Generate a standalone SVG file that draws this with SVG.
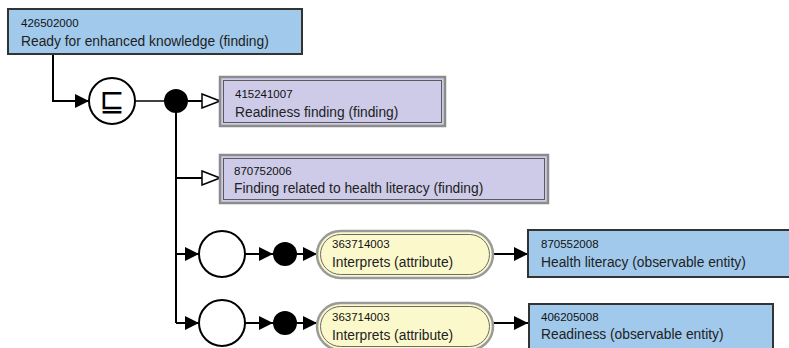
<svg xmlns="http://www.w3.org/2000/svg" width="789" height="348" viewBox="0 0 789 348">
  <style>
    .id { font-family: "Liberation Sans", Arial, sans-serif; font-size: 11.5px; fill: #111; }
    .nm { font-family: "Liberation Sans", Arial, sans-serif; font-size: 13.8px; fill: #222; }
    .prim { fill: #a0c9ec; stroke: #333; stroke-width: 2; }
    .def-outer { fill: #cdcbe8; stroke: #8c8c8c; stroke-width: 2.5; }
    .def-inner { fill: none; stroke: #5a5a5a; stroke-width: 1; }
    .attr-outer { fill: #fbf8cc; stroke: #9a9a9a; stroke-width: 2.5; }
    .attr-inner { fill: none; stroke: #6a6a6a; stroke-width: 1; }
    .line { fill: none; stroke: #000; stroke-width: 2; }
    .thin { fill: none; stroke: #000; stroke-width: 1.5; }
    .op { fill: #fff; stroke: #000; stroke-width: 2; }
    .dot { fill: #000; }
  </style>
  <defs>
    <marker id="filled" viewBox="0 0 14 14" refX="14" refY="7" markerWidth="14" markerHeight="14" markerUnits="userSpaceOnUse" orient="auto">
      <path d="M0,0 L14,7 L0,14 Z" fill="#000"/>
    </marker>
    <marker id="hollow" viewBox="0 0 20 16" refX="19" refY="8" markerWidth="20" markerHeight="16" markerUnits="userSpaceOnUse" orient="auto">
      <path d="M1,1 L19,8 L1,15 Z" fill="#fff" stroke="#000" stroke-width="1.5"/>
    </marker>
  </defs>

  <!-- connectors -->
  <g id="connectors">
    <path class="line" d="M53,54 V101 H89" marker-end="url(#filled)"/>
    <path class="thin" d="M134,101 H164"/>
    <path class="line" d="M188,101 H220" marker-end="url(#hollow)"/>
    <path class="line" d="M176,112 V323"/>
    <path class="line" d="M176,178 H220" marker-end="url(#hollow)"/>
    <path class="line" d="M176,254 H199" marker-end="url(#filled)"/>
    <path class="line" d="M245,254 H273" marker-end="url(#filled)"/>
    <path class="line" d="M297,254 H317" marker-end="url(#filled)"/>
    <path class="line" d="M493,254 H528" marker-end="url(#filled)"/>
    <path class="line" d="M176,323 H199" marker-end="url(#filled)"/>
    <path class="line" d="M245,323 H273" marker-end="url(#filled)"/>
    <path class="line" d="M297,323 H317" marker-end="url(#filled)"/>
    <path class="line" d="M493,323 H528" marker-end="url(#filled)"/>
  </g>

  <!-- focus concept -->
  <g id="c426502000">
    <rect class="prim" x="8" y="9" width="294" height="45"/>
    <text class="id" x="21" y="27">426502000</text>
    <text class="nm" x="21" y="46">Ready for enhanced knowledge (finding)</text>
  </g>

  <!-- subsumption operator -->
  <g id="subsumed">
    <circle class="op" cx="112" cy="101" r="23"/>
    <text x="112" y="111" text-anchor="middle" font-family="DejaVu Sans, sans-serif" font-size="30">⊑</text>
  </g>

  <g id="conj">
    <circle class="dot" cx="176" cy="101" r="12"/>
  </g>

  <g id="c415241007">
    <rect class="def-outer" x="220" y="77" width="225" height="49"/>
    <rect class="def-inner" x="223.5" y="80.5" width="218" height="42"/>
    <text class="id" x="235" y="98">415241007</text>
    <text class="nm" x="235" y="117">Readiness finding (finding)</text>
  </g>

  <g id="c870752006">
    <rect class="def-outer" x="220" y="155" width="328" height="48"/>
    <rect class="def-inner" x="223.5" y="158.5" width="321" height="41"/>
    <text class="id" x="234" y="175">870752006</text>
    <text class="nm" x="234" y="193">Finding related to health literacy (finding)</text>
  </g>

  <!-- first role group -->
  <g id="group1">
    <circle class="op" cx="222" cy="254" r="23"/>
  </g>
  <g id="conj1">
    <circle class="dot" cx="285" cy="254" r="12"/>
  </g>
  <g id="attr1">
    <rect class="attr-outer" x="317" y="231" width="176" height="47" rx="23.5"/>
    <rect class="attr-inner" x="320.5" y="234.5" width="169" height="40" rx="20"/>
    <text class="id" x="332" y="248">363714003</text>
    <text class="nm" x="332" y="267">Interprets (attribute)</text>
  </g>
  <g id="c870552008">
    <rect class="prim" x="528" y="230" width="270" height="47"/>
    <text class="id" x="541" y="248">870552008</text>
    <text class="nm" x="541" y="267">Health literacy (observable entity)</text>
  </g>

  <!-- second role group -->
  <g id="group2">
    <circle class="op" cx="222" cy="323" r="23"/>
  </g>
  <g id="conj2">
    <circle class="dot" cx="285" cy="323" r="12"/>
  </g>
  <g id="attr2">
    <rect class="attr-outer" x="317" y="303" width="176" height="47" rx="23.5"/>
    <rect class="attr-inner" x="320.5" y="306.5" width="169" height="40" rx="20"/>
    <text class="id" x="332" y="321">363714003</text>
    <text class="nm" x="332" y="340">Interprets (attribute)</text>
  </g>
  <g id="c406205008">
    <rect class="prim" x="529" y="304" width="244" height="50"/>
    <text class="id" x="541" y="321">406205008</text>
    <text class="nm" x="541" y="339">Readiness (observable entity)</text>
  </g>
</svg>
